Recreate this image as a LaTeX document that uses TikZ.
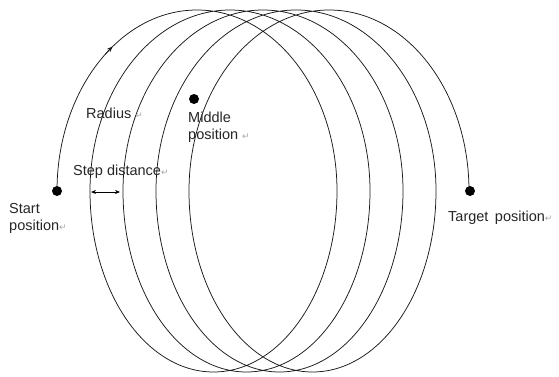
\documentclass[tikz,border=0pt]{standalone}
\usepackage{fontspec}
\setmainfont{Liberation Sans}
\newfontfamily\symfont{DejaVu Sans}
\usetikzlibrary{arrows.meta,positioning}
\newcommand{\retmark}{{\symfont\color{black!35}\fontsize{9}{9}\selectfont ↵}}

\begin{document}
\begin{tikzpicture}[x=1pt,y=1pt,
  coil/.style={line width=0.75pt, black!90},
  dot/.style={circle, fill=black, inner sep=0pt, minimum size=10pt},
  lbl/.style={inner sep=0pt, align=left, anchor=west, text=black!85,
    font=\fontsize{14.5}{17}\selectfont},
  gap/.style={{Stealth[length=5pt,width=4pt]}-{Stealth[length=5pt,width=4pt]}, line width=0.8pt}
  ]
  \useasboundingbox (0,0) rectangle (559,376);
  % positions along the coil
  \node[dot] (start)  at (57,185) {};
  \node[dot] (middle) at (194,277) {};
  \node[dot] (target) at (470,185) {};
  % the coil: upper halves go forward, lower halves come back
  \draw[coil] (start.center)
    \foreach \i in {1,...,4}{
      arc[start angle=180, end angle=0, x radius=140pt, y radius=181pt]
      arc[start angle=0, end angle=-180, x radius=123.5pt, y radius=181pt]
    }
    arc[start angle=180, end angle=0, x radius=140pt, y radius=181pt];
  % direction mark on the first turn
  \draw[coil, -{Stealth[length=6pt,width=4.5pt]}] (197,185) ++(131:140pt and 181pt)
    arc[start angle=131, end angle=127, x radius=140pt, y radius=181pt];
  % step between two turns
  \coordinate (stepL) at (91,184);
  \coordinate (stepR) at (120,184);
  \draw[gap] (stepL) -- (stepR);
  % labels
  \node[lbl] (radius)  at (86,263)  {Radius \retmark};
  \node[lbl] (midlbl)  at (188,249) {Middle\\position \retmark};
  \node[lbl] (steplbl) at (73,204)  {Step distance\retmark};
  \node[lbl] (startlbl) at (9,158)  {Start\\position\retmark};
  \node[lbl] (targetlbl) at (448,158) {Target\, position\retmark};
\end{tikzpicture}
\end{document}
